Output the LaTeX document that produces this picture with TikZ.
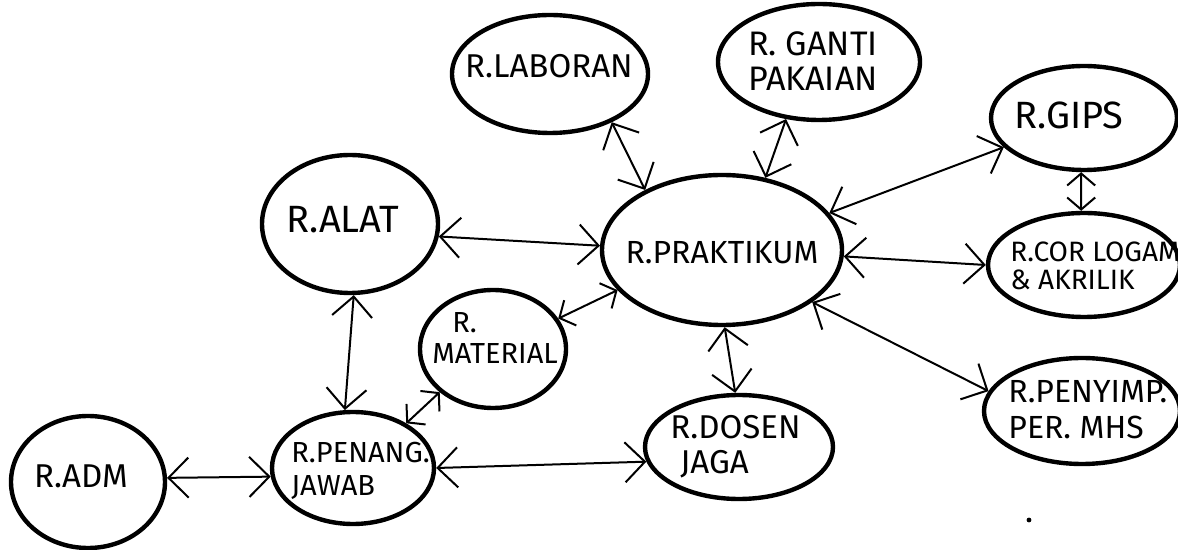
\documentclass[tikz,border=0pt]{standalone}
\usepackage{fontspec}
\setmainfont{Fira Sans}
\usetikzlibrary{arrows.meta,shapes.geometric}
\begin{document}
\begin{tikzpicture}[x=0.5pt,y=-0.5pt,
  room/.style={draw, ellipse, line width=2.2pt, inner sep=0pt},
  txt/.style={inner sep=0pt, align=left, font=\fontsize{16.5}{17.5}\selectfont},
  link/.style={line width=1pt,
    {Straight Barb[length=10pt,width=20pt,line width=1pt]}-{Straight Barb[length=10pt,width=20pt,line width=1pt]}},
  slink/.style={line width=1pt,
    {Straight Barb[length=6pt,width=14pt,line width=1pt]}-{Straight Barb[length=6pt,width=14pt,line width=1pt]}}]
\useasboundingbox (0,0) rectangle (1178,550);

% rooms
\node[room, minimum width=98pt,  minimum height=59pt] (lab)   at (550,74)  {};
\node[room, minimum width=101pt, minimum height=58pt] (ganti) at (819,62)  {};
\node[room, minimum width=93pt,  minimum height=52pt] (gips)  at (1084,118) {};
\node[room, minimum width=88pt,  minimum height=69pt] (alat)  at (350,224) {};
\node[room, minimum width=120pt, minimum height=75pt] (prak)  at (722,250) {};
\node[room, minimum width=96pt,  minimum height=52pt] (cor)   at (1084,265) {};
\node[room, minimum width=73pt,  minimum height=59pt] (mat)   at (493,349) {};
\node[room, minimum width=81pt,  minimum height=56pt] (pj)    at (353,468) {};
\node[room, minimum width=77pt,  minimum height=66pt] (adm)   at (88,482)  {};
\node[room, minimum width=94pt,  minimum height=52pt] (dosen) at (739,447) {};
\node[room, minimum width=98pt,  minimum height=53pt] (simp)  at (1082,411) {};

% labels
\node[txt] (tlab) at (549,66) {R.LABORAN};
\node[txt, align=center, font=\fontsize{17}{17.5}\selectfont] (tganti) at (813,61) {R. GANTI\\PAKAIAN};
\node[txt, font=\fontsize{19}{20}\selectfont] (tgips) at (1069,115) {R.GIPS};
\node[txt, font=\fontsize{19}{20}\selectfont] (talat) at (343,220) {R.ALAT};
\node[txt, font=\fontsize{16}{17}\selectfont] (tprak) at (722,253) {R.PRAKTIKUM};
\node[txt, anchor=west, font=\fontsize{14}{14}\selectfont] (tcor) at (1010,266) {R.COR LOGAM\\\& AKRILIK};
\node[txt, anchor=west, font=\fontsize{14.5}{15.5}\selectfont] (tmat) at (432,338) {\hspace*{10pt}R.\\MATERIAL};
\node[txt, anchor=west, font=\fontsize{14.5}{16.5}\selectfont] (tpj) at (291,471) {R.PENANG.\\JAWAB};
\node[txt] (tadm) at (81,476) {R.ADM};
\node[txt, anchor=west] (tdosen) at (670,447) {R.DOSEN\\\hspace*{5pt}JAGA};
\node[txt, anchor=west, font=\fontsize{16}{18}\selectfont] (tsimp) at (1008,410) {R.PENYIMP.\\PER. MHS};
\fill (1029,520) circle (1.2pt);

% connectors
\draw[link] (lab.-38) -- (prak.142);
\draw[link] (ganti.-120) -- (prak.59);
\draw[link] (gips.-160) -- (prak.19);
\draw[slink] (gips.-93) -- (cor.93);
\draw[link] (prak.-3) -- (cor.180);
\draw[link] (prak.-30) -- (simp.168);
\draw[link] (prak.-88) -- (dosen.94);
\draw[link] (alat.-8) -- (prak.178);
\draw[slink] (mat.25) -- (prak.-159);
\draw[link] (alat.-87) -- (pj.98);
\draw[slink] (mat.-141) -- (pj.40);
\draw[link] (pj.0) -- (dosen.-171);
\draw[link] (adm.3) -- (pj.-174);
\end{tikzpicture}
\end{document}
